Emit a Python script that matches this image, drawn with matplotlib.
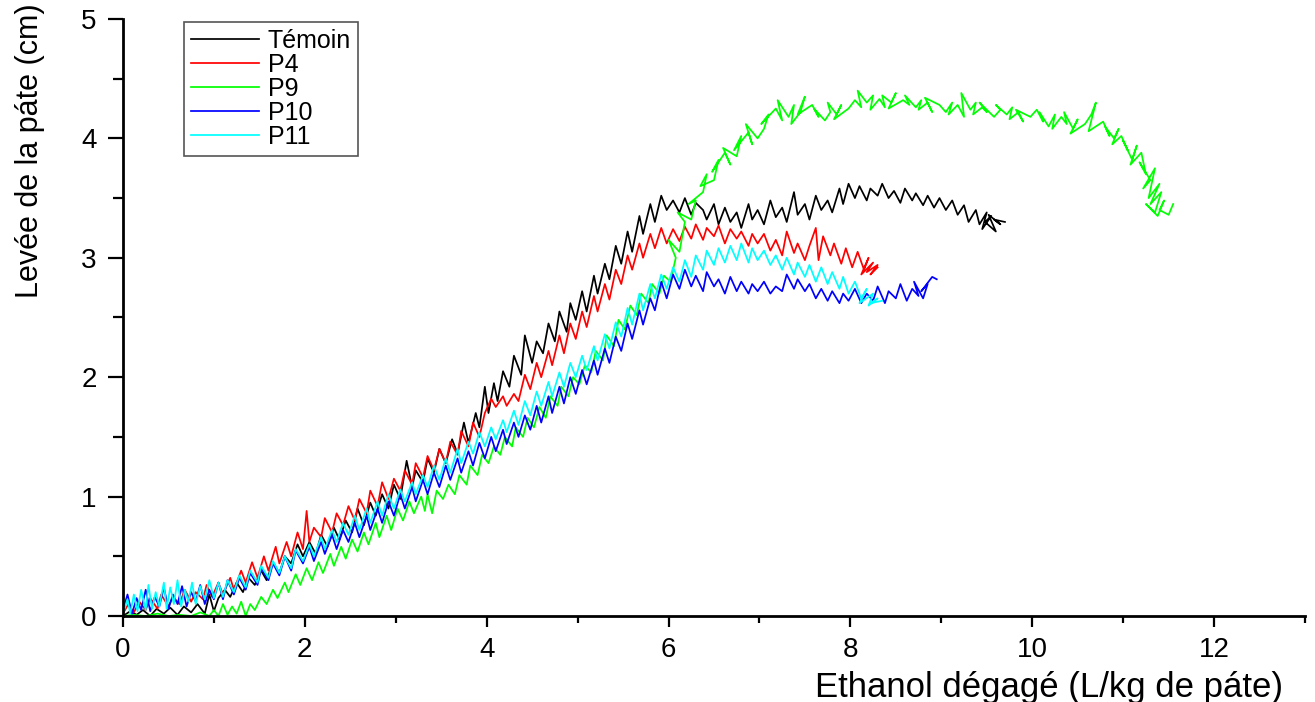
import matplotlib
matplotlib.use("Agg")
import matplotlib.pyplot as plt
from matplotlib.ticker import MultipleLocator

plt.rcParams['font.family'] = ['Liberation Sans', 'DejaVu Sans']

# Témoin
tem_x = [0.00,0.08,0.15,0.22,0.30,0.37,0.45,0.52,0.60,0.67,0.75,0.82,0.90,0.95,1.00,1.05,
         1.12,1.18,1.25,1.32,1.38,1.45,1.52,1.58,1.65,1.72,1.78,1.85,1.92,1.98,
         2.05,2.12,2.18,2.25,2.32,2.38,2.45,2.52,2.58,2.65,2.72,2.78,2.85,2.92,2.98,
         3.05,3.12,3.18,3.22,3.30,3.35,3.42,3.48,3.55,3.62,3.68,3.75,3.80,3.88,3.92,3.98,
         4.02,4.08,4.12,4.18,4.25,4.30,4.38,4.42,4.50,4.55,4.62,4.68,4.75,4.80,4.88,4.92,4.98,
         5.05,5.10,5.18,5.22,5.30,5.35,5.42,5.48,5.55,5.60,5.68,5.72,5.80,5.85,5.92,5.98,
         6.05,6.12,6.18,6.25,6.30,6.38,6.42,6.50,6.55,6.62,6.68,6.75,6.80,6.88,6.92,6.98,
         7.05,7.12,7.18,7.25,7.30,7.38,7.42,7.50,7.55,7.62,7.68,7.75,7.80,7.88,7.92,7.98,
         8.05,8.10,8.18,8.22,8.30,8.35,8.42,8.48,8.55,8.60,8.68,8.72,8.80,8.85,8.92,8.98,
         9.05,9.12,9.18,9.25,9.30,9.38,9.42,9.50,9.45,9.55,9.48,9.60,9.52,9.65,9.58,9.70]
tem_y = [0.00,0.04,0.01,0.05,0.00,0.06,0.02,0.07,0.01,0.08,0.03,0.10,0.02,0.18,0.04,0.15,
         0.22,0.16,0.28,0.20,0.32,0.26,0.38,0.30,0.45,0.36,0.50,0.44,0.60,0.50,
         0.62,0.52,0.68,0.58,0.74,0.64,0.80,0.70,0.90,0.76,0.95,0.84,1.02,0.90,1.10,
         0.98,1.30,1.08,1.22,1.12,1.32,1.20,1.40,1.28,1.48,1.36,1.62,1.45,1.70,1.58,1.92,
         1.70,1.95,1.80,2.05,1.92,2.18,2.02,2.35,2.12,2.30,2.20,2.45,2.30,2.55,2.38,2.62,2.48,
         2.72,2.55,2.85,2.70,2.95,2.82,3.10,2.95,3.22,3.05,3.35,3.20,3.45,3.30,3.52,3.40,
         3.48,3.38,3.50,3.36,3.46,3.40,3.32,3.45,3.28,3.42,3.30,3.38,3.25,3.45,3.32,3.40,
         3.28,3.48,3.34,3.42,3.30,3.55,3.36,3.45,3.32,3.52,3.40,3.48,3.38,3.58,3.45,3.62,
         3.50,3.60,3.48,3.58,3.52,3.62,3.50,3.56,3.46,3.58,3.48,3.54,3.44,3.52,3.42,3.50,
         3.40,3.48,3.36,3.44,3.30,3.40,3.28,3.38,3.24,3.35,3.30,3.22,3.36,3.28,3.32,3.30]

# P4
p4_x = [0.00,0.06,0.12,0.18,0.25,0.30,0.38,0.42,0.50,0.55,0.62,0.68,0.75,0.80,0.88,0.92,0.98,
        1.05,1.10,1.18,1.22,1.30,1.35,1.42,1.48,1.55,1.60,1.68,1.72,1.80,1.85,1.92,1.98,
        2.02,2.05,2.10,2.18,2.22,2.30,2.35,2.42,2.48,2.55,2.60,2.68,2.72,2.80,2.85,2.92,2.98,
        3.05,3.10,3.18,3.22,3.30,3.35,3.42,3.48,3.55,3.60,3.68,3.72,3.80,3.85,3.92,3.98,
        4.05,4.10,4.18,4.22,4.30,4.35,4.42,4.48,4.55,4.60,4.68,4.72,4.80,4.85,4.92,4.98,
        5.05,5.10,5.18,5.22,5.30,5.35,5.42,5.48,5.55,5.60,5.68,5.72,5.80,5.85,5.92,5.98,
        6.05,6.12,6.18,6.25,6.30,6.38,6.42,6.50,6.55,6.62,6.68,6.75,6.80,6.88,6.92,6.98,
        7.05,7.12,7.18,7.25,7.30,7.38,7.42,7.50,7.55,7.62,7.65,7.70,7.78,7.82,7.90,7.95,
        8.02,8.08,8.15,8.20,8.12,8.25,8.18,8.30,8.22,8.30]
p4_y = [0.02,0.10,0.03,0.12,0.05,0.15,0.06,0.18,0.08,0.16,0.10,0.22,0.12,0.20,0.14,0.26,0.16,
        0.28,0.18,0.32,0.22,0.38,0.28,0.45,0.32,0.50,0.38,0.58,0.44,0.62,0.50,0.70,0.56,
        0.88,0.62,0.74,0.66,0.82,0.70,0.86,0.76,0.92,0.80,0.98,0.86,1.05,0.92,1.12,0.98,1.15,
        1.05,1.22,1.10,1.28,1.16,1.34,1.22,1.40,1.28,1.46,1.35,1.55,1.42,1.62,1.50,1.70,
        1.82,1.75,1.84,1.76,1.86,1.80,2.02,1.90,2.12,2.00,2.22,2.10,2.35,2.20,2.45,2.32,
        2.55,2.42,2.68,2.55,2.78,2.65,2.90,2.78,3.02,2.90,3.12,3.00,3.20,3.08,3.25,3.12,
        3.24,3.14,3.26,3.16,3.28,3.15,3.25,3.18,3.27,3.12,3.24,3.16,3.22,3.10,3.20,3.12,
        3.20,3.06,3.15,3.02,3.22,3.04,3.12,2.98,3.10,3.25,2.98,3.18,3.02,3.12,2.95,3.08,
        2.92,3.05,2.90,3.00,2.86,2.96,2.88,2.94,2.86,2.92]

# P9
p9_x = [0.00,0.12,0.25,0.38,0.50,0.62,0.75,0.85,0.95,1.00,1.05,
        1.10,1.15,1.20,1.25,1.30,1.35,1.40,1.45,1.52,1.58,1.65,1.70,1.78,1.82,1.90,1.95,
        2.02,2.08,2.15,2.20,2.28,2.32,2.40,2.45,2.52,2.58,2.65,2.70,2.78,2.82,2.90,2.95,
        3.02,3.08,3.15,3.20,3.28,3.32,3.35,3.40,3.45,3.52,3.58,3.65,3.70,3.78,3.82,3.90,3.95,
        4.02,4.08,4.15,4.20,4.28,4.32,4.40,4.45,4.52,4.58,4.65,4.70,4.78,4.82,4.90,4.95,
        5.02,5.08,5.15,5.20,5.28,5.32,5.40,5.45,5.52,5.58,5.65,5.70,5.78,5.82,5.90,5.95,
        6.02,6.08,6.00,6.12,6.18,6.10,6.25,6.30,6.22,6.38,6.42,6.35,6.50,6.55,6.48,6.62,6.68,6.60,6.75,6.80,6.72,6.88,6.92,6.85,6.98,
        7.05,7.10,7.02,7.18,7.25,7.20,7.32,7.38,7.35,7.45,7.50,7.42,7.58,7.65,7.60,7.72,7.78,7.75,7.85,7.90,7.82,7.98,
        8.05,8.12,8.08,8.18,8.25,8.22,8.32,8.38,8.35,8.45,8.50,8.42,8.58,8.65,8.60,8.72,8.78,8.75,8.85,8.90,8.82,8.98,
        9.05,9.12,9.08,9.18,9.25,9.22,9.32,9.38,9.35,9.45,9.50,9.42,9.58,9.65,9.60,9.72,9.78,9.75,9.85,9.90,9.82,9.98,
        10.05,10.12,10.08,10.18,10.25,10.22,10.32,10.38,10.35,10.45,10.50,10.42,10.58,10.65,10.70,10.62,10.78,10.85,10.80,10.90,10.95,10.88,10.98,
        11.05,11.00,11.10,11.15,11.08,11.20,11.25,11.18,11.30,11.22,11.35,11.28,11.40,11.30,11.42,11.35,11.25,11.38,11.45,11.40,11.50,11.55]
p9_y = [0.00,0.01,0.00,0.02,0.00,0.01,0.00,0.03,0.00,0.05,0.00,
        0.10,0.01,0.08,0.02,0.12,0.00,0.10,0.05,0.16,0.10,0.22,0.15,0.28,0.20,0.35,0.26,
        0.40,0.30,0.45,0.36,0.52,0.42,0.58,0.48,0.64,0.54,0.70,0.60,0.78,0.66,0.84,0.72,
        0.90,0.80,0.96,0.86,1.00,0.88,1.02,0.86,1.05,0.98,1.10,1.02,1.18,1.10,1.26,1.18,1.35,
        1.28,1.42,1.35,1.50,1.42,1.58,1.50,1.66,1.58,1.75,1.66,1.84,1.76,1.92,1.84,2.00,
        1.94,2.10,2.04,2.22,2.14,2.35,2.26,2.48,2.40,2.60,2.52,2.70,2.62,2.78,2.70,2.85,
        2.80,3.00,3.15,3.05,3.30,3.38,3.32,3.48,3.45,3.55,3.70,3.60,3.65,3.82,3.72,3.88,3.78,3.92,3.85,4.02,3.90,4.05,3.95,4.12,4.00,
        4.08,4.20,4.12,4.25,4.15,4.32,4.18,4.28,4.12,4.22,4.35,4.20,4.28,4.18,4.25,4.15,4.22,4.30,4.20,4.28,4.16,4.25,
        4.32,4.26,4.40,4.30,4.36,4.24,4.33,4.26,4.36,4.30,4.38,4.25,4.32,4.28,4.36,4.26,4.32,4.24,4.30,4.22,4.34,4.28,
        4.22,4.30,4.20,4.28,4.18,4.38,4.24,4.30,4.20,4.26,4.22,4.30,4.18,4.24,4.28,4.20,4.26,4.16,4.22,4.14,4.24,4.18,
        4.24,4.14,4.22,4.10,4.20,4.08,4.18,4.12,4.22,4.08,4.16,4.04,4.12,4.20,4.30,4.06,4.14,4.02,4.10,4.00,4.08,3.95,4.02,
        3.90,3.98,3.82,3.94,3.78,3.88,3.70,3.80,3.65,3.58,3.75,3.50,3.62,3.45,3.55,3.38,3.45,3.35,3.48,3.40,3.36,3.45]

# P10
p10_x = [0.00,0.05,0.10,0.15,0.20,0.25,0.30,0.35,0.40,0.45,0.50,0.55,0.60,0.65,0.70,0.75,0.80,0.85,0.90,0.95,1.00,
         1.05,1.10,1.15,1.22,1.28,1.35,1.40,1.48,1.52,1.60,1.65,1.72,1.78,1.85,1.90,1.98,
         2.05,2.10,2.18,2.22,2.30,2.35,2.42,2.48,2.55,2.60,2.68,2.72,2.80,2.85,2.92,2.98,
         3.05,3.10,3.18,3.22,3.30,3.35,3.42,3.48,3.55,3.60,3.68,3.72,3.80,3.85,3.92,3.98,
         4.05,4.10,4.18,4.22,4.30,4.35,4.42,4.48,4.55,4.60,4.68,4.72,4.80,4.85,4.92,4.98,
         5.05,5.10,5.18,5.22,5.30,5.35,5.42,5.48,5.55,5.60,5.68,5.72,5.80,5.85,5.92,5.98,
         6.05,6.12,6.18,6.25,6.30,6.38,6.42,6.50,6.55,6.62,6.68,6.75,6.80,6.88,6.92,6.98,
         7.05,7.12,7.18,7.25,7.30,7.38,7.42,7.50,7.55,7.62,7.68,7.75,7.80,7.88,7.92,7.98,
         8.05,8.12,8.18,8.25,8.30,8.38,8.42,8.50,8.55,8.62,8.68,8.75,8.70,8.80,8.85,8.78,8.90,8.95]
p10_y = [0.05,0.18,0.02,0.15,0.05,0.22,0.04,0.16,0.08,0.24,0.06,0.18,0.10,0.25,0.08,0.20,0.12,0.26,0.10,0.22,0.14,
         0.28,0.14,0.30,0.18,0.32,0.22,0.36,0.26,0.40,0.30,0.44,0.34,0.50,0.38,0.55,0.44,
         0.58,0.46,0.62,0.52,0.68,0.56,0.72,0.62,0.78,0.66,0.84,0.72,0.90,0.78,0.96,0.84,
         1.02,0.90,1.08,0.96,1.14,1.02,1.20,1.08,1.26,1.14,1.32,1.20,1.38,1.26,1.45,1.32,
         1.50,1.38,1.56,1.44,1.62,1.50,1.68,1.56,1.76,1.62,1.84,1.70,1.92,1.78,2.00,1.86,
         2.06,1.94,2.14,2.02,2.24,2.12,2.34,2.22,2.45,2.32,2.56,2.44,2.66,2.56,2.80,2.66,
         2.86,2.74,2.90,2.76,2.85,2.72,2.88,2.76,2.82,2.70,2.84,2.72,2.80,2.70,2.78,2.72,
         2.80,2.70,2.76,2.72,2.86,2.74,2.82,2.72,2.78,2.66,2.74,2.64,2.72,2.62,2.70,2.64,
         2.74,2.62,2.70,2.64,2.76,2.62,2.72,2.66,2.78,2.64,2.74,2.68,2.80,2.66,2.78,2.72,2.84,2.82]

# P11
p11_x = [0.00,0.05,0.08,0.12,0.16,0.20,0.25,0.28,0.32,0.36,0.40,0.45,0.48,0.52,0.56,0.60,0.64,0.68,0.72,0.76,0.80,0.85,0.90,0.95,1.00,
         1.05,1.10,1.15,1.22,1.28,1.35,1.40,1.48,1.52,1.60,1.65,1.72,1.78,1.85,1.90,1.98,
         2.05,2.10,2.18,2.22,2.30,2.35,2.42,2.48,2.55,2.60,2.68,2.72,2.80,2.85,2.92,2.98,
         3.05,3.10,3.18,3.22,3.30,3.35,3.42,3.48,3.55,3.60,3.68,3.72,3.80,3.85,3.92,3.98,
         4.05,4.10,4.18,4.22,4.30,4.35,4.42,4.48,4.55,4.60,4.68,4.72,4.80,4.85,4.92,4.98,
         5.05,5.10,5.18,5.22,5.30,5.35,5.42,5.48,5.55,5.60,5.68,5.72,5.80,5.85,5.92,5.98,
         6.05,6.12,6.18,6.25,6.30,6.38,6.42,6.50,6.55,6.62,6.68,6.75,6.80,6.88,6.92,6.98,
         7.05,7.12,7.18,7.25,7.30,7.38,7.42,7.50,7.55,7.62,7.68,7.75,7.80,7.88,7.92,7.98,8.05,8.12,8.18,8.10,8.25,8.20,8.30,8.22,8.35]
p11_y = [0.02,0.14,0.02,0.18,0.04,0.22,0.05,0.26,0.06,0.20,0.08,0.28,0.06,0.24,0.10,0.30,0.08,0.22,0.12,0.28,0.10,0.25,0.14,0.30,0.15,
         0.28,0.16,0.30,0.20,0.34,0.24,0.38,0.28,0.42,0.32,0.46,0.36,0.50,0.40,0.56,0.46,
         0.60,0.50,0.66,0.56,0.72,0.62,0.78,0.68,0.84,0.72,0.90,0.78,0.96,0.84,1.02,0.90,
         1.06,0.96,1.12,1.02,1.18,1.08,1.26,1.14,1.32,1.20,1.40,1.28,1.46,1.36,1.54,1.42,
         1.58,1.48,1.64,1.54,1.72,1.60,1.80,1.68,1.88,1.76,1.96,1.84,2.04,1.92,2.12,2.00,
         2.18,2.06,2.26,2.14,2.36,2.24,2.46,2.34,2.58,2.44,2.70,2.56,2.78,2.66,2.86,2.74,
         2.92,2.80,2.98,2.84,3.02,2.90,3.06,2.94,3.08,2.96,3.10,2.98,3.12,2.96,3.08,2.98,
         3.06,2.94,3.02,2.90,3.00,2.86,2.96,2.84,2.94,2.80,2.92,2.78,2.88,2.74,2.84,2.70,2.80,2.66,2.74,2.62,2.70,2.60,2.66,2.62,2.64]

series = [
    ("Témoin", tem_x, tem_y, "#000000"),
    ("P4", p4_x, p4_y, "#ff0000"),
    ("P9", p9_x, p9_y, "#00ff00"),
    ("P10", p10_x, p10_y, "#0000ff"),
    ("P11", p11_x, p11_y, "#00ffff"),
]

fig = plt.figure(figsize=(13.15, 7.02), dpi=100)
ax = fig.add_axes([0.0935, 0.1225, 0.8989, 0.8505])

for name, xs, ys, col in series:
    ax.plot(xs, ys, color=col, lw=1.25, label=name)

ax.set_xlim(0, 13)
ax.set_ylim(0, 5)
ax.spines['top'].set_visible(False)
ax.spines['right'].set_visible(False)
ax.spines['left'].set_linewidth(2)
ax.spines['bottom'].set_linewidth(2)

ax.xaxis.set_major_locator(MultipleLocator(2))
ax.xaxis.set_minor_locator(MultipleLocator(1))
ax.yaxis.set_major_locator(MultipleLocator(1))
ax.yaxis.set_minor_locator(MultipleLocator(0.5))
ax.tick_params(axis='x', which='major', length=8, width=1.6, pad=7, labelsize=20)
ax.tick_params(axis='x', which='minor', length=5, width=1.6)
ax.tick_params(axis='y', which='major', length=11, width=1.6, pad=8, labelsize=20)
ax.tick_params(axis='y', which='minor', length=7, width=1.6)

ax.set_xlabel("Ethanol dégagé (L/kg de páte)", fontsize=25, ha='right', va='center')
ax.xaxis.set_label_coords(0.981, -0.119)
ax.set_ylabel("Levée de la páte (cm)", fontsize=22, ha='center', va='center')
ax.yaxis.set_label_coords(-0.079, 0.779)

leg = ax.legend(loc='upper left', bbox_to_anchor=(0.052, 0.995), borderaxespad=0,
                fontsize=18, handlelength=2.7, handletextpad=0.35, labelspacing=0.0,
                borderpad=0.28, fancybox=False, framealpha=1)
leg.get_frame().set_edgecolor('#555555')
leg.get_frame().set_linewidth(1.2)

fig.savefig("out.png", dpi=100)
